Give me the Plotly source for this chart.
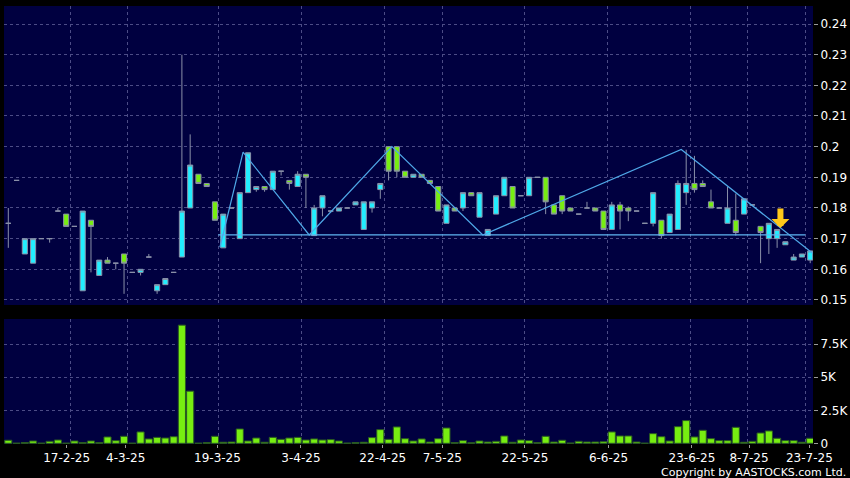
import plotly.graph_objects as go

# ---------------- data ----------------
opens = [0.175, 0.189, 0.165, 0.162, 0.170, 0.170, 0.179, 0.178, 0.174, 0.153,
         0.176, 0.158, 0.163, 0.162, 0.165, 0.159, 0.159, 0.164, 0.153, 0.155,
         0.159, 0.164, 0.180, 0.191, 0.188, 0.182, 0.167, 0.180, 0.170, 0.185,
         0.186, 0.187, 0.186, 0.192, 0.189, 0.187, 0.191, 0.171, 0.180, 0.179,
         0.179, 0.180, 0.181, 0.173, 0.180, 0.186, 0.200, 0.200, 0.192, 0.190,
         0.191, 0.189, 0.187, 0.175, 0.180, 0.180, 0.185, 0.177, 0.171, 0.178,
         0.184, 0.187, 0.184, 0.184, 0.190, 0.190, 0.181, 0.184, 0.180, 0.178,
         0.180, 0.180, 0.179, 0.173, 0.181, 0.180, 0.179, 0.175, 0.175, 0.176,
         0.172, 0.173, 0.185, 0.188, 0.188, 0.182, 0.180, 0.175, 0.176, 0.178,
         0.181, 0.174, 0.170, 0.170, 0.168, 0.163, 0.164, 0.163]
highs = [0.180, 0.189, 0.170, 0.170, 0.170, 0.170, 0.180, 0.178, 0.174, 0.179,
         0.176, 0.163, 0.164, 0.162, 0.165, 0.159, 0.160, 0.165, 0.155, 0.157,
         0.159, 0.230, 0.204, 0.191, 0.188, 0.182, 0.178, 0.180, 0.185, 0.198,
         0.187, 0.187, 0.192, 0.192, 0.189, 0.192, 0.191, 0.181, 0.184, 0.179,
         0.180, 0.180, 0.182, 0.182, 0.182, 0.188, 0.200, 0.200, 0.192, 0.191,
         0.191, 0.189, 0.187, 0.181, 0.180, 0.185, 0.185, 0.185, 0.173, 0.184,
         0.190, 0.187, 0.184, 0.190, 0.190, 0.190, 0.181, 0.184, 0.180, 0.178,
         0.182, 0.180, 0.179, 0.182, 0.182, 0.1805, 0.179, 0.175, 0.185, 0.176,
         0.178, 0.189, 0.199, 0.197, 0.189, 0.186, 0.180, 0.187, 0.1847, 0.183,
         0.181, 0.174, 0.175, 0.173, 0.169, 0.165, 0.165, 0.166]
lows = [0.167, 0.189, 0.165, 0.162, 0.170, 0.1687, 0.179, 0.174, 0.174, 0.153,
        0.159, 0.158, 0.162, 0.160, 0.152, 0.159, 0.158, 0.164, 0.152, 0.155,
        0.159, 0.164, 0.180, 0.188, 0.187, 0.176, 0.167, 0.180, 0.170, 0.185,
        0.1853, 0.1853, 0.186, 0.1906, 0.186, 0.187, 0.180, 0.171, 0.1773, 0.1785,
        0.179, 0.180, 0.181, 0.173, 0.1785, 0.183, 0.189, 0.190, 0.190, 0.190,
        0.190, 0.188, 0.179, 0.175, 0.179, 0.179, 0.184, 0.177, 0.171, 0.178,
        0.184, 0.180, 0.184, 0.184, 0.190, 0.178, 0.178, 0.178, 0.179, 0.178,
        0.180, 0.179, 0.173, 0.173, 0.173, 0.1757, 0.179, 0.175, 0.174, 0.170,
        0.172, 0.173, 0.181, 0.185, 0.187, 0.180, 0.180, 0.175, 0.171, 0.178,
        0.181, 0.162, 0.165, 0.167, 0.168, 0.163, 0.164, 0.162]
closes = [0.175, 0.189, 0.170, 0.170, 0.170, 0.170, 0.179, 0.174, 0.174, 0.179,
          0.174, 0.163, 0.162, 0.162, 0.162, 0.159, 0.160, 0.164, 0.155, 0.157,
          0.159, 0.179, 0.194, 0.188, 0.187, 0.176, 0.178, 0.180, 0.185, 0.198,
          0.187, 0.186, 0.192, 0.192, 0.188, 0.191, 0.190, 0.180, 0.184, 0.179,
          0.180, 0.180, 0.182, 0.182, 0.182, 0.188, 0.192, 0.192, 0.190, 0.191,
          0.190, 0.188, 0.179, 0.181, 0.179, 0.185, 0.184, 0.185, 0.173, 0.184,
          0.190, 0.180, 0.184, 0.190, 0.190, 0.182, 0.178, 0.179, 0.179, 0.178,
          0.180, 0.179, 0.173, 0.181, 0.179, 0.179, 0.179, 0.175, 0.185, 0.171,
          0.178, 0.188, 0.188, 0.186, 0.187, 0.180, 0.180, 0.180, 0.172, 0.183,
          0.181, 0.172, 0.175, 0.173, 0.169, 0.164, 0.165, 0.166]
volumes = [230, 10, 60, 175, 10, 150, 250, 10, 175, 60,
           175, 50, 480, 200, 530, 10, 860, 330, 450, 400,
           500, 8950, 3950, 10, 60, 530, 80, 100, 1085, 175,
           400, 80, 450, 300, 400, 450, 250, 330, 250, 280,
           175, 20, 60, 80, 430, 1035, 300, 1240, 350, 175,
           330, 100, 350, 1160, 60, 200, 40, 175, 100, 150,
           555, 80, 250, 200, 60, 530, 100, 230, 20, 150,
           100, 100, 120, 860, 555, 555, 100, 10, 730, 500,
           175, 1260, 1720, 480, 985, 350, 200, 200, 1210, 80,
           150, 780, 935, 380, 200, 200, 80, 380]
session = list(range(len(closes)))

date_labels = ["17-2-25", "4-3-25", "19-3-25", "3-4-25", "22-4-25", "7-5-25",
               "22-5-25", "6-6-25", "23-6-25", "8-7-25", "23-7-25"]
date_label_pos = [7.06, 14.2, 25.3, 35.4, 45.3, 52.5, 62.5, 72.6, 82.7, 89.6, 96.9]
date_grid_pos = [7.5, 14.4, 25.4, 35.5, 45.5, 52.5, 62.4, 72.5, 82.5, 89.4, 96.4]

price_ticks = [0.15, 0.16, 0.17, 0.18, 0.19, 0.20, 0.21, 0.22, 0.23, 0.24]
price_tick_text = ["0.15", "0.16", "0.17", "0.18", "0.19", "0.2", "0.21", "0.22", "0.23", "0.24"]
vol_ticks = [0, 2500, 5000, 7500]
vol_tick_text = ["0", "2.5K", "5K", "7.5K"]

# pattern lines drawn on the chart (session position, price)
zigzag_x = [25.6, 28.4, 36.4, 46.4, 57.4, 81.4, 97.3]
zigzag_y = [0.1672, 0.1982, 0.1712, 0.2000, 0.1712, 0.1991, 0.1652]
neck_x = [25.4, 96.4]
neck_y = [0.1712, 0.1712]
signal_x = 93.4
signal_y = 0.1735

# ---------------- styles ----------------
BG = "#000040"
CYAN = "#22EEFF"
GREEN = "#77EE11"
EDGE = "#8A90A8"
GRID = "#4c4c86"
LINE = "#4FA8E8"
FONT = "DejaVu Sans"

fig = go.Figure()

fig.add_trace(go.Candlestick(
    x=session, open=opens, high=highs, low=lows, close=closes,
    increasing=dict(fillcolor=CYAN, line=dict(color=EDGE, width=1)),
    decreasing=dict(fillcolor=GREEN, line=dict(color=EDGE, width=1)),
    whiskerwidth=0, xaxis="x", yaxis="y", showlegend=False, hoverinfo="skip",
))

fig.add_trace(go.Scatter(x=neck_x, y=neck_y, mode="lines",
                         line=dict(color="#5FB6F2", width=1.2),
                         xaxis="x", yaxis="y", showlegend=False, hoverinfo="skip"))
fig.add_trace(go.Scatter(x=zigzag_x, y=zigzag_y, mode="lines",
                         line=dict(color=LINE, width=1.2),
                         xaxis="x", yaxis="y", showlegend=False, hoverinfo="skip"))

fig.add_trace(go.Bar(
    x=session, y=volumes, width=0.86,
    marker=dict(color=GREEN, line=dict(color="#2a5a22", width=1)),
    xaxis="x2", yaxis="y2", showlegend=False, hoverinfo="skip",
))

xr = [-0.52, 97.34]
fig.update_layout(
    width=850, height=478,
    paper_bgcolor="#000000", plot_bgcolor=BG,
    margin=dict(l=4, r=37, t=6, b=34),
    boxgap=0.12,
    font=dict(family=FONT, size=12, color="#FFFFFF"),
    xaxis=dict(domain=[0, 1], anchor="y", range=xr, rangeslider=dict(visible=False),
               tickmode="array", tickvals=date_grid_pos, showticklabels=False, ticks="",
               showgrid=True, gridcolor=GRID, griddash="3px,3px", gridwidth=1,
               zeroline=False, showline=False, fixedrange=True),
    yaxis=dict(domain=[0.3174, 1], anchor="x", side="right", range=[0.14837, 0.24587],
               tickmode="array", tickvals=price_ticks, ticktext=price_tick_text,
               ticks="outside", ticklen=4, tickcolor="#9a9a9a",
               showgrid=True, gridcolor=GRID, griddash="3px,3px", gridwidth=1,
               zeroline=False, showline=False, automargin=False,
               tickfont=dict(family=FONT, size=12, color="#FFFFFF")),
    xaxis2=dict(domain=[0, 1], anchor="y2", range=xr,
                tickmode="array", tickvals=date_label_pos, ticktext=date_labels,
                ticks="outside", ticklen=3, tickcolor="#9a9a9a", showgrid=False,
                minor=dict(tickmode="array", tickvals=date_grid_pos, showgrid=True,
                           gridcolor=GRID, griddash="3px,3px", gridwidth=1, ticks=""),
                zeroline=False, showline=False, automargin=False,
                tickfont=dict(family=FONT, size=12, color="#FFFFFF")),
    yaxis2=dict(domain=[0, 0.2854], anchor="x2", side="right", range=[-53, 9417],
                tickmode="array", tickvals=vol_ticks, ticktext=vol_tick_text,
                ticks="outside", ticklen=4, tickcolor="#9a9a9a",
                showgrid=True, gridcolor=GRID, griddash="3px,3px", gridwidth=1,
                zeroline=False, showline=False, automargin=False,
                tickfont=dict(family=FONT, size=12, color="#FFFFFF")),
    annotations=[
        dict(x=signal_x, y=signal_y, xref="x", yref="y", text="", showarrow=True,
             ax=0, ay=-21, axref="pixel", ayref="pixel", arrowhead=1, arrowsize=0.5,
             arrowwidth=6, arrowcolor="#FFC81A", standoff=0),
        dict(x=1.0433, y=-0.0650, xref="paper", yref="paper", xanchor="right",
             yanchor="middle", showarrow=False, text="Copyright by AASTOCKS.com Ltd.",
             font=dict(family=FONT, size=11, color="#FFFFFF")),
    ],
    bargap=0.14,
)

fig.write_html("out.html", config={"displayModeBar": False},
               post_script="document.body.style.margin='0';document.body.style.background='#000';")
